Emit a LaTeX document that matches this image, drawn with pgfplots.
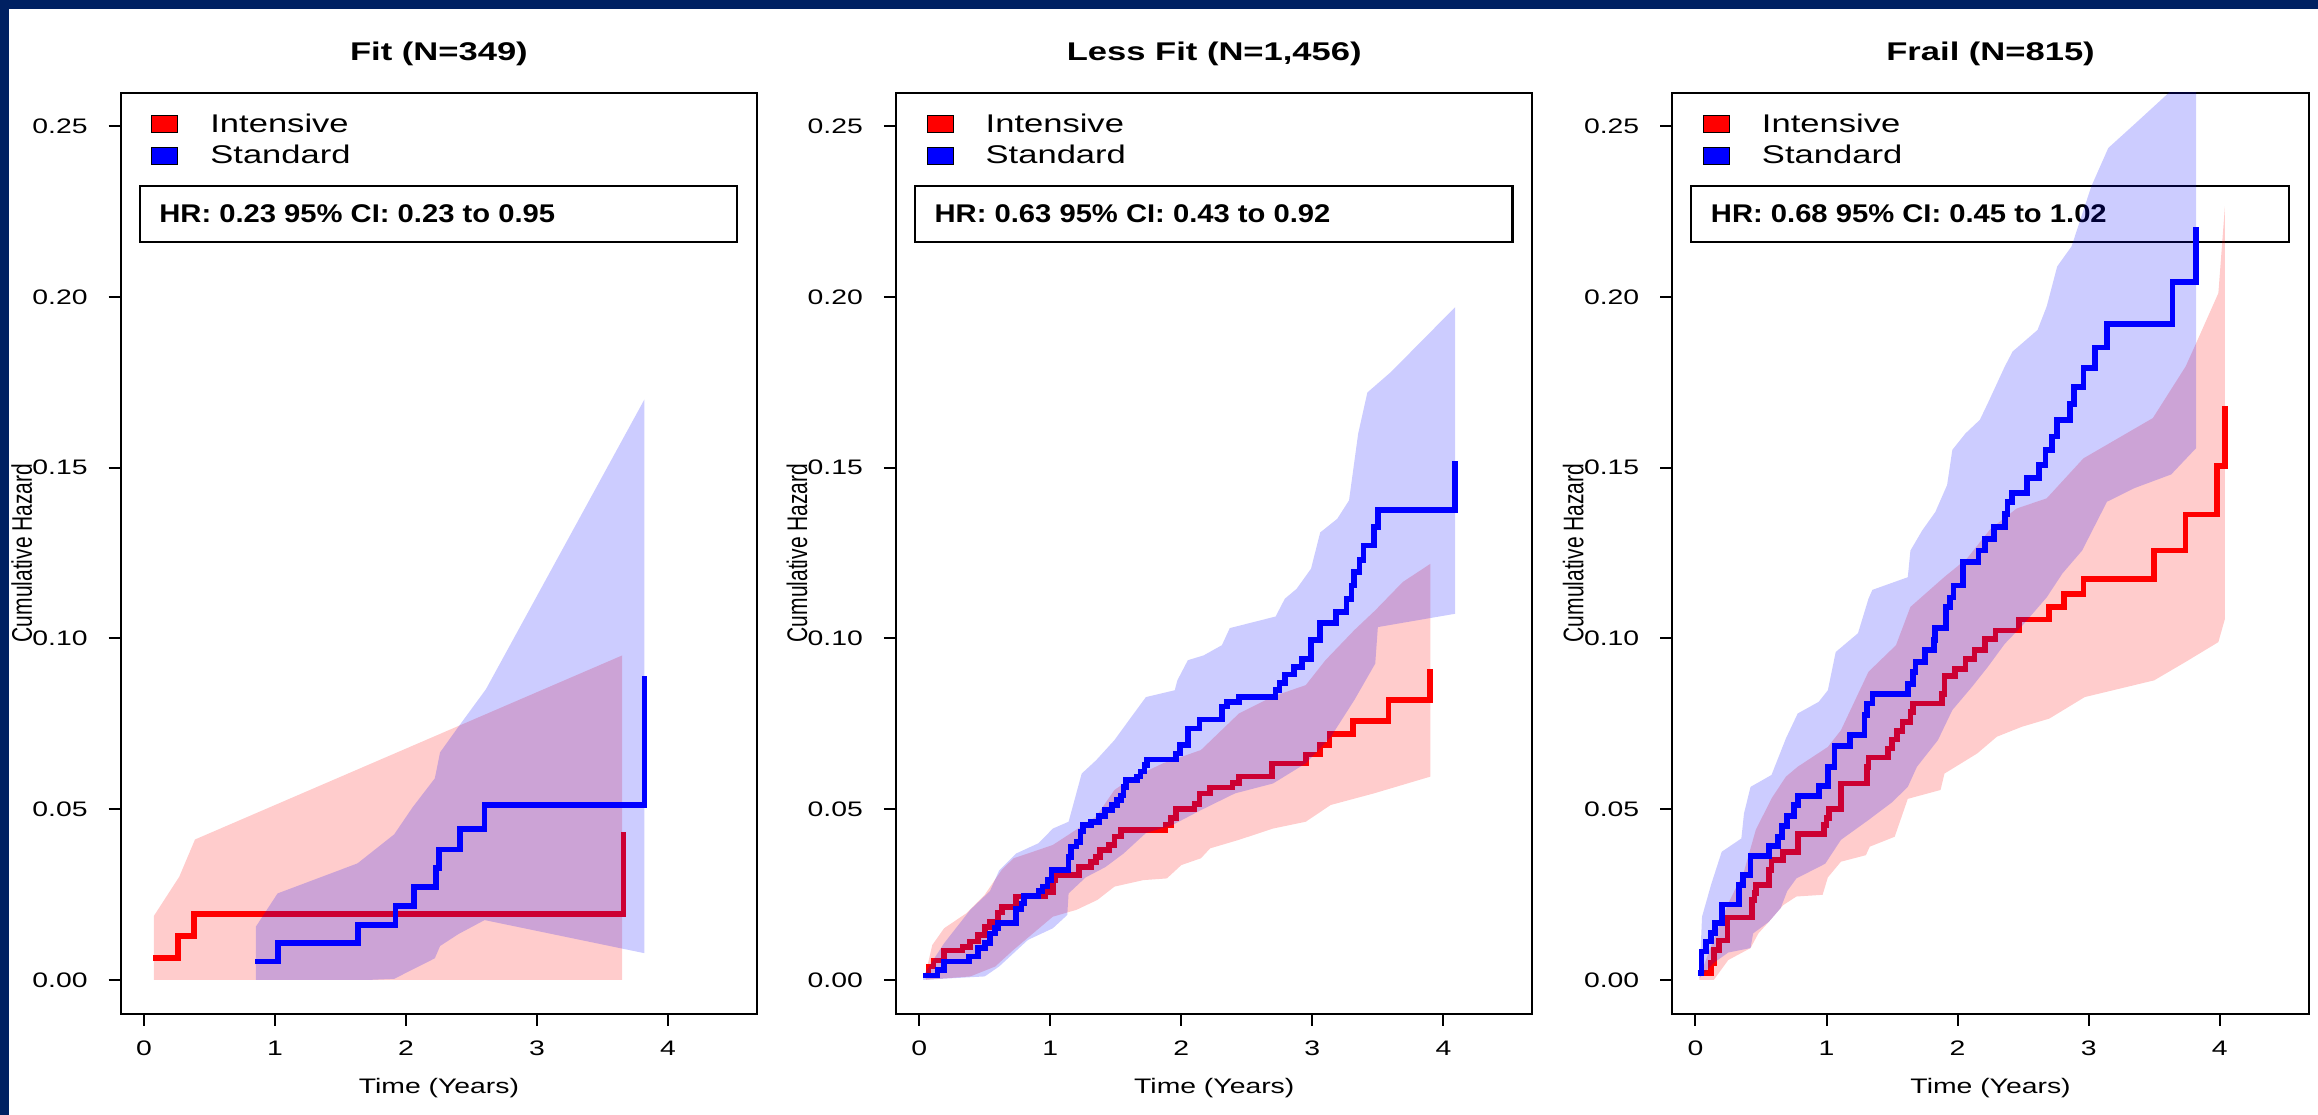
\documentclass[border=0pt]{standalone}
\usepackage{graphicx}
\usepackage{fontspec}
\setmainfont{Liberation Sans}
\usepackage{pgfplots}
\pgfplotsset{compat=1.18}

\definecolor{navy}{RGB}{0,33,98}
\definecolor{rred}{RGB}{255,0,0}
\definecolor{rblue}{RGB}{0,0,255}

% the reference is stretched sideways, so is the text here
\newcommand{\sx}[1]{\scalebox{1.35}[1]{#1}}
\newcommand{\tickfont}{\fontsize{6.3}{7.5}\selectfont}
\newcommand{\bigfont}{\fontsize{7.68}{9}\selectfont}

\pgfplotsset{
  km/.style={
    scale only axis, anchor=north west,
    width=190.95pt, height=276.3pt,
    xmin=-0.177, xmax=4.68, ymin=-0.01, ymax=0.2597,
    axis line style={line width=0.6pt},
    xtick={0,1,2,3,4},
    xticklabels={\sx{0},\sx{1},\sx{2},\sx{3},\sx{4}},
    ytick={0,0.05,0.1,0.15,0.2,0.25},
    yticklabels={\sx{0.00},\sx{0.05},\sx{0.10},\sx{0.15},\sx{0.20},\sx{0.25}},
    tick align=outside, tick pos=left,
    major tick length=3.6pt,
    tick style={line width=0.6pt, black},
    ticklabel style={font=\tickfont},
    xticklabel style={yshift=-1pt},
    yticklabel style={xshift=-2.8pt},
  },
  band/.style={draw=none, fill=#1, fill opacity=0.2},
  step/.style={const plot, draw=#1, line width=1.7pt},
}

% panel decorations, #1 = left edge of the box in px
\newcommand{\extras}[3]{%
  \node[anchor=base, font=\bigfont\bfseries, inner sep=0] at ({#1+318.25},61) {\sx{#2}};
  \node[anchor=base, font=\tickfont, inner sep=0] at ({#1+318.25},1093) {\sx{Time (Years)}};
  \node[rotate=90, font=\tickfont, inner sep=0] at ({#1-99},553) {\scalebox{1}[1.35]{Cumulative Hazard}};
  \draw[fill=rred, line width=0.3pt] ({#1+31},116) rectangle ({#1+57},133);
  \draw[fill=rblue, line width=0.3pt] ({#1+31},148) rectangle ({#1+57},165);
  \node[anchor=base west, font=\bigfont, inner sep=0] at ({#1+89},133) {\sx{Intensive}};
  \node[anchor=base west, font=\bigfont, inner sep=0] at ({#1+89},164) {\sx{Standard}};
  \draw[line width=0.7pt] ({#1+19},186) rectangle ({#1+616.5},242);
  \node[anchor=base west, font=\bigfont\bfseries, inner sep=0] at ({#1+38},223) {\scalebox{1.14}[1]{#3}};
}

\begin{document}
\begin{tikzpicture}
\begin{scope}[x=0.3pt, y=-0.3pt]
  \fill[navy] (0,0) rectangle (2318,1115);
  \fill[white] (9,9) rectangle (2318,1115);
  \extras{120.7}{Fit (N=349)}{HR: 0.23 95\% CI: 0.23 to 0.95}
  \extras{896}{Less Fit (N=1,456)}{HR: 0.63 95\% CI: 0.43 to 0.92}
  \extras{1672.3}{Frail (N=815)}{HR: 0.68 95\% CI: 0.45 to 1.02}
\end{scope}

% ---- Fit ----
\begin{axis}[km, at={(36.21pt,-27.9pt)}]
\addplot[band=rred] coordinates {
  (0.076,0.0187) (0.27,0.0302) (0.39,0.0411) (3.65,0.0950)
  (3.65,0) (0.076,0)};
\addplot[step=rred] coordinates {
  (0.07,0.0063) (0.26,0.0129) (0.38,0.0193) (3.66,0.0434)};
\addplot[band=rblue] coordinates {
  (0.855,0.0156) (1.02,0.0253) (1.63,0.0341) (1.91,0.0426) (2.05,0.0505)
  (2.22,0.0590) (2.26,0.0666) (2.40,0.0741) (2.61,0.0851) (3.82,0.170)
  (3.82,0.0078) (2.60,0.0175) (2.40,0.0134) (2.26,0.0099) (2.22,0.0063)
  (1.91,0.0003) (1.73,0) (0.855,0)};
\addplot[step=rblue] coordinates {
  (0.85,0.0054) (1.025,0.0107) (1.635,0.0161) (1.92,0.0216) (2.06,0.0271)
  (2.23,0.0327) (2.25,0.0382) (2.41,0.0441) (2.60,0.0512) (3.82,0.0889)};
\end{axis}

% ---- Less Fit ----
\begin{axis}[km, at={(268.8pt,-27.9pt)}]
\addplot[band=rred] coordinates {
  (0.05,0.002) (0.10,0.0102) (0.19,0.0151) (0.36,0.0195) (0.50,0.0249)
  (0.63,0.0322) (0.72,0.0356) (0.83,0.037) (1.02,0.0395) (1.16,0.043)
  (1.35,0.0478) (1.49,0.0556) (1.62,0.059) (1.86,0.0634) (2.15,0.0673)
  (2.44,0.078) (2.70,0.083) (2.95,0.0863) (3.10,0.0936) (3.32,0.1024)
  (3.48,0.1082) (3.69,0.1165) (3.90,0.1218)
  (3.90,0.0595) (3.47,0.0546) (3.14,0.0512) (2.95,0.0463) (2.70,0.0443)
  (2.44,0.041) (2.22,0.0385) (2.15,0.0356) (2.0,0.0336) (1.89,0.0297)
  (1.71,0.0292) (1.49,0.0273) (1.36,0.0234) (1.20,0.0205) (1.02,0.0185)
  (0.72,0.0088) (0.58,0.0039) (0.39,0.001) (0.05,0)};
\addplot[step=rred] coordinates {
  (0.04,0.0013) (0.07,0.0039) (0.11,0.0057) (0.19,0.0086) (0.33,0.0097)
  (0.39,0.0112) (0.45,0.0132) (0.50,0.0154) (0.54,0.017) (0.60,0.0197)
  (0.63,0.0214) (0.74,0.0244) (0.96,0.0258) (1.02,0.0292) (1.04,0.0307)
  (1.22,0.033) (1.31,0.0346) (1.35,0.036) (1.38,0.038) (1.45,0.0395)
  (1.49,0.042) (1.54,0.0439) (1.88,0.0453) (1.92,0.0473) (1.96,0.050)
  (2.10,0.0515) (2.14,0.0546) (2.22,0.0563) (2.39,0.0577) (2.44,0.0595)
  (2.69,0.0634) (2.95,0.066) (3.06,0.0687) (3.13,0.072) (3.31,0.0758)
  (3.58,0.0819) (3.90,0.091)};
\addplot[band=rblue] coordinates {
  (0.03,0.001) (0.10,0.0054) (0.19,0.0107) (0.39,0.0205) (0.54,0.026)
  (0.61,0.032) (0.74,0.037) (0.91,0.040) (1.02,0.0443) (1.14,0.0463)
  (1.24,0.0604) (1.35,0.0643) (1.49,0.0702) (1.60,0.076) (1.73,0.0828)
  (1.95,0.0848) (1.97,0.0877) (2.05,0.0936) (2.17,0.095) (2.31,0.098)
  (2.37,0.103) (2.72,0.1064) (2.79,0.1116) (2.88,0.1145) (2.99,0.1204)
  (3.06,0.131) (3.19,0.135) (3.28,0.1404) (3.35,0.160) (3.42,0.172)
  (3.6,0.178) (4.09,0.197)
  (4.09,0.1072) (3.50,0.1033) (3.48,0.0926) (3.32,0.0819) (3.14,0.0711)
  (2.95,0.0634) (2.70,0.0575) (2.41,0.0546) (2.15,0.0497) (1.93,0.0453)
  (1.73,0.043) (1.56,0.037) (1.42,0.033) (1.27,0.030) (1.14,0.0253)
  (1.13,0.019) (1.02,0.0151) (0.83,0.0117) (0.72,0.0078) (0.61,0.0039)
  (0.50,0.001) (0.03,0)};
\addplot[step=rblue] coordinates {
  (0.03,0.0013) (0.14,0.0029) (0.19,0.0054) (0.38,0.0068) (0.45,0.0093)
  (0.50,0.0107) (0.54,0.0136) (0.58,0.0151) (0.60,0.0166) (0.74,0.0207)
  (0.78,0.0224) (0.80,0.0246) (0.91,0.026) (0.94,0.0273) (0.98,0.0292)
  (1.01,0.0322) (1.14,0.036) (1.16,0.039) (1.20,0.0404) (1.23,0.0434)
  (1.25,0.0453) (1.31,0.0463) (1.37,0.048) (1.42,0.0497) (1.47,0.0512)
  (1.51,0.0526) (1.54,0.054) (1.56,0.0565) (1.58,0.0585) (1.66,0.0595)
  (1.69,0.061) (1.72,0.063) (1.74,0.0645) (1.96,0.0663) (1.99,0.0687)
  (2.05,0.0736) (2.14,0.0762) (2.31,0.080) (2.35,0.0814) (2.44,0.0828)
  (2.72,0.0848) (2.75,0.087) (2.79,0.0894) (2.86,0.0917) (2.92,0.094)
  (2.99,0.0995) (3.06,0.1045) (3.18,0.1077) (3.26,0.1116) (3.30,0.1155)
  (3.32,0.1194) (3.36,0.123) (3.39,0.1272) (3.47,0.1326) (3.50,0.1376)
  (4.09,0.152)};
\end{axis}

% ---- Frail ----
\begin{axis}[km, at={(501.69pt,-27.9pt)}]
\addplot[band=rred] coordinates {
  (0.03,0.0005) (0.1,0.008) (0.25,0.0224) (0.37,0.0317) (0.46,0.0439)
  (0.58,0.0531) (0.69,0.0595) (0.78,0.0624) (1.01,0.0682) (1.11,0.0731)
  (1.32,0.0902) (1.53,0.098) (1.64,0.1092) (1.90,0.118) (2.07,0.1233)
  (2.25,0.132) (2.45,0.138) (2.68,0.141) (2.96,0.1527) (3.49,0.1645)
  (3.74,0.1796) (3.82,0.1864) (3.99,0.2011) (4.04,0.2265)
  (4.04,0.1057) (3.99,0.0989) (3.74,0.0931) (3.50,0.0877) (2.97,0.0828)
  (2.70,0.0765) (2.49,0.0741) (2.30,0.0712) (2.15,0.0663) (1.90,0.0604)
  (1.87,0.0556) (1.62,0.053) (1.52,0.0419) (1.33,0.039) (1.30,0.0365)
  (1.11,0.0346) (1.01,0.030) (0.97,0.0249) (0.77,0.0244) (0.67,0.0219)
  (0.56,0.017) (0.48,0.0136) (0.42,0.0093) (0.25,0.0058) (0.14,0) (0.03,0)};
\addplot[step=rred] coordinates {
  (0.02,0.0021) (0.12,0.0049) (0.14,0.0088) (0.18,0.0115) (0.245,0.0183)
  (0.43,0.0234) (0.45,0.0255) (0.46,0.0278) (0.56,0.0322) (0.58,0.0351)
  (0.67,0.0375) (0.78,0.0427) (0.98,0.0453) (1.0,0.0473) (1.02,0.050)
  (1.11,0.0575) (1.31,0.0624) (1.32,0.0651) (1.47,0.0677) (1.50,0.0704)
  (1.54,0.0729) (1.58,0.0755) (1.64,0.0785) (1.66,0.0809) (1.88,0.0838)
  (1.90,0.0889) (1.98,0.0911) (2.06,0.094) (2.13,0.0965) (2.21,0.0999)
  (2.29,0.1023) (2.47,0.1055) (2.70,0.1092) (2.81,0.1129) (2.96,0.1174)
  (3.50,0.1257) (3.74,0.1363) (3.98,0.1505) (4.04,0.1679)};
\addplot[band=rblue] coordinates {
  (0.03,0.0005) (0.05,0.0185) (0.12,0.028) (0.20,0.0375) (0.35,0.0414)
  (0.37,0.0487) (0.42,0.0565) (0.58,0.060) (0.69,0.0707) (0.78,0.078)
  (0.94,0.0814) (1.01,0.0848) (1.07,0.096) (1.24,0.1015) (1.32,0.1116)
  (1.35,0.1142) (1.62,0.1179) (1.64,0.1257) (1.73,0.1316) (1.83,0.137)
  (1.92,0.1449) (1.96,0.1552) (2.06,0.16) (2.17,0.164) (2.23,0.1688)
  (2.36,0.1796) (2.42,0.184) (2.61,0.1903) (2.68,0.1972) (2.76,0.2089)
  (2.87,0.2148) (3.02,0.2323) (3.15,0.2436) (3.36,0.2509) (3.61,0.2597)
  (3.7,0.28) (3.82,0.28)
  (3.82,0.1557) (3.63,0.148) (3.35,0.144) (3.14,0.14) (2.95,0.1257)
  (2.80,0.119) (2.68,0.112) (2.50,0.104) (2.36,0.0984) (2.23,0.0916)
  (2.11,0.0858) (1.96,0.079) (1.85,0.0702) (1.69,0.0624) (1.62,0.0565)
  (1.50,0.052) (1.32,0.0468) (1.11,0.041) (0.99,0.034) (0.77,0.0297)
  (0.70,0.026) (0.65,0.021) (0.56,0.017) (0.44,0.0136) (0.42,0.0093)
  (0.25,0.008) (0.14,0.005) (0.03,0.0005)};
\addplot[step=rblue] coordinates {
  (0.02,0.0021) (0.045,0.0083) (0.08,0.0112) (0.12,0.0138) (0.15,0.0166)
  (0.20,0.0221) (0.33,0.0278) (0.36,0.0307) (0.42,0.0363) (0.56,0.0392)
  (0.63,0.0419) (0.66,0.045) (0.70,0.048) (0.75,0.0512) (0.78,0.0538)
  (0.94,0.0567) (1.01,0.0624) (1.06,0.0684) (1.18,0.0716) (1.29,0.0775)
  (1.31,0.0809) (1.35,0.0838) (1.62,0.0867) (1.66,0.0902) (1.68,0.093)
  (1.75,0.0965) (1.82,0.0995) (1.83,0.1031) (1.91,0.1092) (1.94,0.112)
  (1.97,0.1155) (2.04,0.1223) (2.16,0.1257) (2.21,0.1291) (2.28,0.1326)
  (2.36,0.1365) (2.38,0.1399) (2.415,0.1425) (2.53,0.147) (2.62,0.1508)
  (2.67,0.1552) (2.72,0.1591) (2.76,0.164) (2.86,0.1687) (2.89,0.1737)
  (2.96,0.1791) (3.05,0.1852) (3.14,0.1921) (3.64,0.2043) (3.82,0.2206)};
\end{axis}
\end{tikzpicture}
\end{document}
